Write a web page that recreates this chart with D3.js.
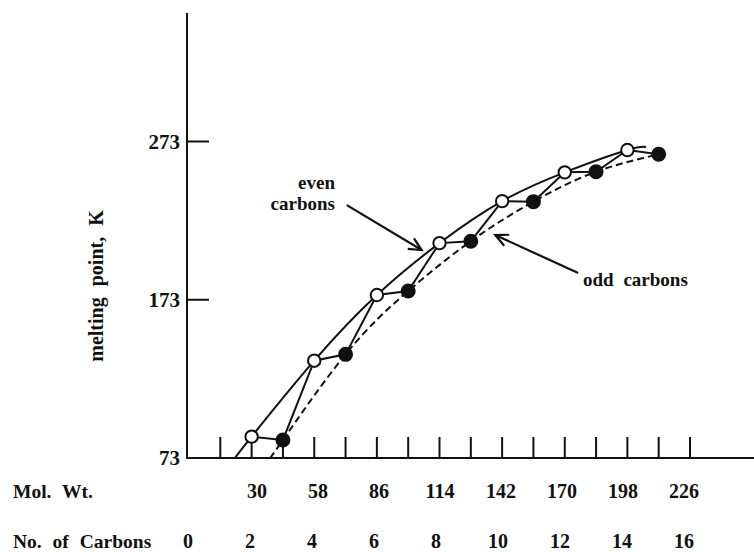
<!DOCTYPE html>
<html>
<head>
<meta charset="utf-8">
<script src="https://cdn.jsdelivr.net/npm/d3@7"></script>
<style>
  body { margin: 0; background: white; }
  text { font-family: "Liberation Serif", "DejaVu Serif", serif; font-weight: bold; fill: #111; }
</style>
</head>
<body>
<div id="chart"></div>
<script>
// carbons in the chain and the melting point (K)
const carbons = [2, 3, 4, 5, 6, 7, 8, 9, 10, 11, 12, 13, 14, 15];
const meltingK = [86.5, 84.4, 134.5, 138.5, 176, 178.5, 208.8, 210, 235.3, 235, 253.5, 253.9, 267.6, 264.9];

// where the two trend curves run out past the first / last point
const evenCurveEnds = [[1.47, 73], [14.6, 269.5]];
const oddCurveEnds = [[2.59, 73]];

const yTicks = [73, 173, 273];
const carbonTicks = [1, 2, 3, 4, 5, 6, 7, 8, 9, 10, 11, 12, 13, 14, 15, 16];
const carbonLabels = [0, 2, 4, 6, 8, 10, 12, 14, 16];
const molWtLabels = [30, 58, 86, 114, 142, 170, 198, 226];

async function loadMeltingPointChart()
{
    const width = 754;
    const height = 552;

    const svg = d3.select("#chart").append("svg")
        .attr("width", width)
        .attr("height", height)

    const x = d3.scaleLinear().domain([0, 16]).range([189, 690]);
    const y = d3.scaleLinear().domain([73, 273]).range([458, 141.5]);
    // printed label rows drift a little from the tick marks in the scan
    const xLabel = d3.scaleLinear().domain([0, 16]).range([188, 684]);

    const points = carbons.map((n, i) => ({ n: n, k: meltingK[i], even: n % 2 === 0 }));
    const evenPts = points.filter(d => d.even).map(d => [d.n, d.k]);
    const oddPts = points.filter(d => !d.even).map(d => [d.n, d.k]);

    // axes, drawn by hand to look like the printed figure
    svg.append("line")
        .attr("x1", x(0) - 2).attr("x2", x(0) - 2)
        .attr("y1", 13).attr("y2", y(73))
        .attr("stroke", "#111").attr("stroke-width", 2)
    svg.append("line")
        .attr("x1", x(0) - 3).attr("x2", width)
        .attr("y1", y(73)).attr("y2", y(73))
        .attr("stroke", "#111").attr("stroke-width", 2)

    svg.append("g")
        .selectAll("line")
        .data(yTicks.filter(t => t > 73))
        .join("line")
        .attr("x1", x(0) - 2).attr("x2", x(0) + 20)
        .attr("y1", d => y(d)).attr("y2", d => y(d))
        .attr("stroke", "#111").attr("stroke-width", 2)

    svg.append("g")
        .selectAll("text")
        .data(yTicks)
        .join("text")
        .attr("x", x(0) - 9)
        .attr("y", d => y(d) + 7)
        .attr("text-anchor", "end")
        .style("font-size", "21px")
        .text(d => d)

    svg.append("g")
        .selectAll("line")
        .data(carbonTicks)
        .join("line")
        .attr("x1", d => x(d)).attr("x2", d => x(d))
        .attr("y1", y(73) - 21).attr("y2", y(73))
        .attr("stroke", "#111").attr("stroke-width", 2)

    // bottom label rows
    svg.append("text")
        .attr("x", 13).attr("y", 498)
        .style("font-size", "19.5px")
        .style("word-spacing", "6px")
        .text("Mol. Wt.")
    svg.append("text")
        .attr("x", 13).attr("y", 548)
        .style("font-size", "19.5px")
        .style("word-spacing", "6px")
        .text("No. of Carbons")

    svg.append("g")
        .selectAll("text")
        .data(molWtLabels)
        .join("text")
        .attr("x", (d, i) => xLabel(2 + 2 * i) + (7 - i))
        .attr("y", 498)
        .attr("text-anchor", "middle")
        .style("font-size", "20px")
        .text(d => d)

    svg.append("g")
        .selectAll("text")
        .data(carbonLabels)
        .join("text")
        .attr("x", d => xLabel(d))
        .attr("y", 548)
        .attr("text-anchor", "middle")
        .style("font-size", "20px")
        .text(d => d)

    svg.append("text")
        .attr("transform", `translate(103, 286) rotate(-90)`)
        .attr("text-anchor", "middle")
        .style("font-size", "20px")
        .style("word-spacing", "6px")
        .text("melting point, K")

    // smooth trend curves: solid through even, dashed through odd
    const curve = d3.line()
        .x(d => x(d[0]))
        .y(d => y(d[1]))
        .curve(d3.curveNatural)

    svg.append("path")
        .attr("d", curve([evenCurveEnds[0], ...evenPts, evenCurveEnds[1]]))
        .attr("fill", "none")
        .attr("stroke", "#111")
        .attr("stroke-width", 2)

    svg.append("path")
        .attr("d", curve([oddCurveEnds[0], ...oddPts]))
        .attr("fill", "none")
        .attr("stroke", "#111")
        .attr("stroke-width", 2)
        .attr("stroke-dasharray", "7,4")

    // zig-zag joining every chain length in order
    svg.append("path")
        .attr("d", d3.line().x(d => x(d.n)).y(d => y(d.k))(points))
        .attr("fill", "none")
        .attr("stroke", "#111")
        .attr("stroke-width", 2)

    svg.append("g")
        .selectAll("circle")
        .data(points)
        .join("circle")
        .attr("cx", d => x(d.n))
        .attr("cy", d => y(d.k))
        .attr("r", d => d.even ? 6.2 : 6.5)
        .attr("fill", d => d.even ? "white" : "#111")
        .attr("stroke", "#111")
        .attr("stroke-width", 2)

    // annotations
    drawArrow(svg, x(5.04), y(232.8), x(7.43), y(204.4))
    drawArrow(svg, x(12.43), y(189.9), x(9.78), y(213.9))

    svg.append("text")
        .attr("x", 335).attr("y", 189)
        .attr("text-anchor", "end")
        .style("font-size", "19px")
        .text("even")
    svg.append("text")
        .attr("x", 335).attr("y", 210)
        .attr("text-anchor", "end")
        .style("font-size", "19px")
        .text("carbons")
    svg.append("text")
        .attr("x", 583).attr("y", 286)
        .style("font-size", "19px")
        .style("word-spacing", "5px")
        .text("odd carbons")
}

/**
 * Straight arrow with an open chevron head at (x2, y2)
 */
function drawArrow(svg, x1, y1, x2, y2) {
    const a = Math.atan2(y2 - y1, x2 - x1);
    const len = 14, spread = 0.45;
    const head = [
        [x2 - len * Math.cos(a - spread), y2 - len * Math.sin(a - spread)],
        [x2, y2],
        [x2 - len * Math.cos(a + spread), y2 - len * Math.sin(a + spread)]
    ];
    svg.append("line")
        .attr("x1", x1).attr("y1", y1)
        .attr("x2", x2).attr("y2", y2)
        .attr("stroke", "#111").attr("stroke-width", 2.2)
    svg.append("path")
        .attr("d", d3.line()(head))
        .attr("fill", "none")
        .attr("stroke", "#111").attr("stroke-width", 2.2)
}

loadMeltingPointChart();
</script>
</body>
</html>
